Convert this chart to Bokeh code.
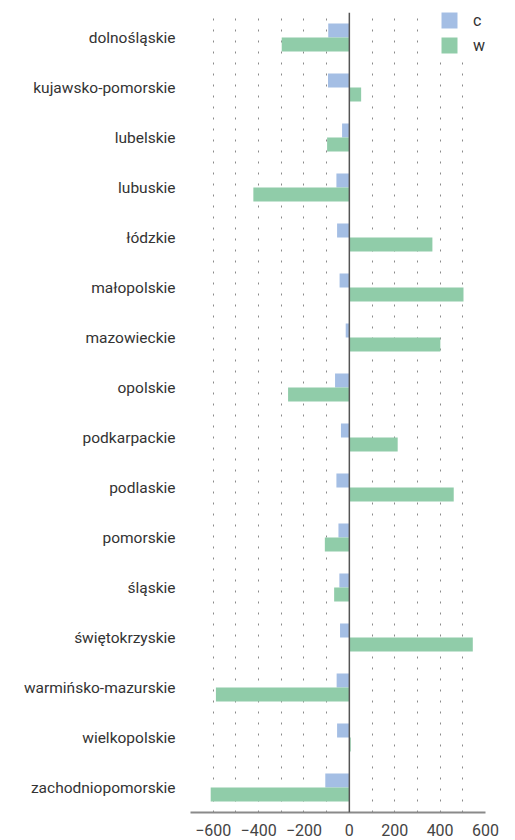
from bokeh.plotting import figure
from bokeh.models import (Range1d, FactorRange, Span, SingleIntervalTicker, FixedTicker,
                          Legend, LegendItem, ColumnDataSource)
from bokeh.transform import dodge
from bokeh.embed import file_html
from bokeh.resources import INLINE

regions = ["dolnośląskie", "kujawsko-pomorskie", "lubelskie", "lubuskie", "łódzkie",
           "małopolskie", "mazowieckie", "opolskie", "podkarpackie", "podlaskie",
           "pomorskie", "śląskie", "świętokrzyskie", "warmińsko-mazurskie",
           "wielkopolskie", "zachodniopomorskie"]
c_values = [-93, -94, -32, -57, -54, -43, -16, -63, -37, -57, -48, -44, -41, -56, -54, -106]
w_values = [-298, 52, -98, -423, 366, 503, 401, -270, 213, 460, -108, -67, 544, -588, 6, -611]
x_ticks = [-600, -400, -200, 0, 200, 400, 600]

FONT = "Roboto"
C_COLOR = "#a4bee4"
W_COLOR = "#90cca9"

src = ColumnDataSource(dict(region=regions, c=c_values, w=w_values))

p = figure(width=507, height=840,
           y_range=FactorRange(*reversed(regions)),
           x_range=Range1d(-700, 600),
           output_backend="svg", toolbar_location=None,
           min_border_left=190, min_border_right=22,
           min_border_top=12, min_border_bottom=28)
p.outline_line_color = None
p.background_fill_color = "white"
p.border_fill_color = "white"

rc = p.hbar(y=dodge("region", 0.14, range=p.y_range), left=0, right="c", height=0.28,
            source=src, fill_color=C_COLOR, line_color=None)
rw = p.hbar(y=dodge("region", -0.14, range=p.y_range), left=0, right="w", height=0.28,
            source=src, fill_color=W_COLOR, line_color=None)

# grid
p.xgrid.ticker = SingleIntervalTicker(interval=100)
p.xgrid.grid_line_color = "#8a8a8a"
p.xgrid.grid_line_dash = "2 9"
p.xgrid.grid_line_width = 1
p.ygrid.grid_line_color = None

# zero line
p.add_layout(Span(location=0, dimension="height", line_color="#555555", line_width=1.5))

# x axis
p.xaxis.ticker = FixedTicker(ticks=x_ticks)
p.xaxis.major_tick_line_color = None
p.xaxis.minor_tick_line_color = None
p.xaxis.axis_line_color = "#8a8a8a"
p.xaxis.axis_line_width = 2
p.xaxis.major_label_standoff = 5
p.xaxis.major_label_text_font = FONT
p.xaxis.major_label_text_font_size = "16px"
p.xaxis.major_label_text_color = "#444444"

# y axis
p.yaxis.axis_line_color = None
p.yaxis.major_tick_line_color = None
p.yaxis.minor_tick_line_color = None
p.yaxis.major_label_standoff = 9
p.yaxis.major_label_text_font = FONT
p.yaxis.major_label_text_font_size = "15.5px"
p.yaxis.major_label_text_color = "#333333"

legend = Legend(items=[LegendItem(label="c", renderers=[rc]),
                       LegendItem(label="w", renderers=[rw])],
                location=(249, 757), orientation="vertical",
                glyph_width=20, glyph_height=20, label_standoff=14,
                spacing=5, padding=8, margin=0,
                border_line_color=None, background_fill_color="white",
                background_fill_alpha=1.0,
                label_text_font=FONT, label_text_font_size="16px",
                label_text_color="#333333")
p.add_layout(legend)

open("out.html", "w").write(file_html(p, INLINE))
